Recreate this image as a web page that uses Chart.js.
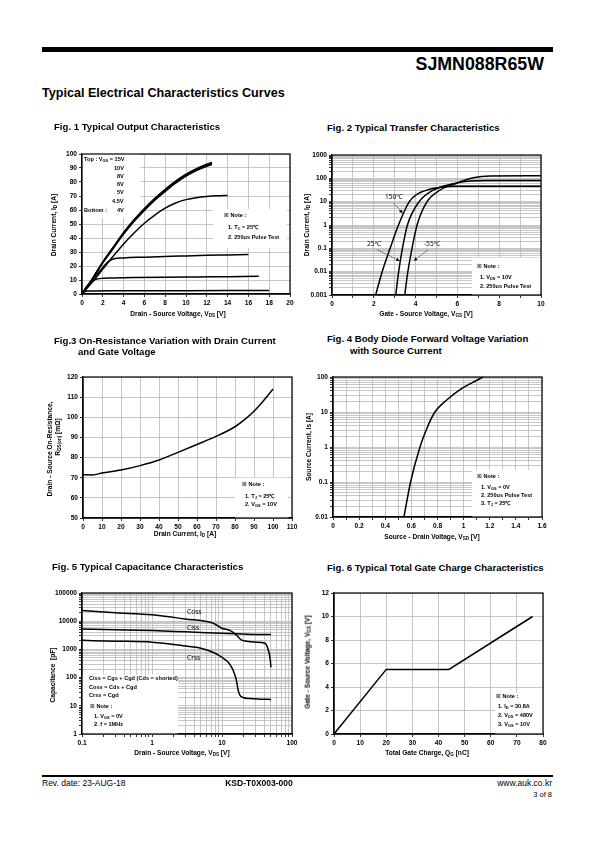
<!DOCTYPE html>
<html>
<head>
<meta charset="utf-8">
<script src="https://cdn.jsdelivr.net/npm/chart.js@4"></script>
<style>
body { margin: 0; background: #fff; }
#page { position: relative; width: 595px; height: 842px; overflow: hidden; font-family: "Liberation Sans", Arial, sans-serif; color: #000; }
.t { position: absolute; white-space: nowrap; line-height: 1; transform: translateY(-50%); }
.c { transform: translate(-50%, -50%); }
.v { transform: translate(-50%, -50%) rotate(-90deg); }
.fig { font-weight: bold; font-size: 9.6px; }
.ax { font-weight: bold; font-size: 6.6px; }
.note { font-weight: bold; font-size: 5.6px; }
.lbl { font-size: 6.6px; font-family: "Noto Sans", sans-serif; }
sub { font-size: 70%; vertical-align: -1px; line-height: 0; }
.bar { position: absolute; background: #000; }
</style>
</head>
<body>
<div id="page">
  <div class="bar" style="left:42px;top:47px;width:511px;height:5px"></div>
  <div class="t" style="right:51px;top:65px;font-weight:bold;font-size:17.8px">SJMN088R65W</div>
  <div class="t" style="left:42px;top:93px;font-weight:bold;font-size:12.6px">Typical Electrical Characteristics Curves</div>

  <div class="t fig" style="left:54px;top:127px">Fig. 1 Typical Output Characteristics</div>
  <div class="t fig" style="left:327px;top:128px">Fig. 2 Typical Transfer Characteristics</div>
  <div class="t fig" style="left:54px;top:341px">Fig.3 On-Resistance Variation with Drain Current</div>
  <div class="t fig" style="left:78px;top:352px">and Gate Voltage</div>
  <div class="t fig" style="left:327px;top:339px">Fig. 4 Body Diode Forward Voltage Variation</div>
  <div class="t fig" style="left:350px;top:351px">with Source Current</div>
  <div class="t fig" style="left:52px;top:567px">Fig. 5 Typical Capacitance Characteristics</div>
  <div class="t fig" style="left:327px;top:568px">Fig. 6 Typical Total Gate Charge Characteristics</div>

  <div class="bar" style="left:42px;top:775px;width:511px;height:2px"></div>
  <div class="t" style="left:42px;top:783px;font-size:8.5px">Rev. date: 23-AUG-18</div>
  <div class="t c" style="left:259px;top:783px;font-size:8.5px;font-weight:bold">KSD-T0X003-000</div>
  <div class="t" style="right:43px;top:783px;font-size:8.5px">www.auk.co.kr</div>
  <div class="t" style="right:43px;top:795px;font-size:7.5px">3 of 8</div>
</div>
<script>
// ---- Fig 1: output characteristics (VDS [V] -> ID [A])
const vdsBundle = [0, 1, 2, 3, 4, 5, 6, 7, 8, 9, 10, 11, 12, 12.5];
const id15V = [0, 11, 23, 33.5, 44, 53, 61, 68.3, 74.8, 80.6, 85.6, 89.6, 92.8, 94];
const id10V = [0, 10.8, 22.6, 33, 43.4, 52.4, 60.3, 67.6, 74, 79.8, 84.8, 88.8, 92, 93.2];
const id8V = [0, 10.6, 22.2, 32.5, 42.8, 51.8, 59.7, 67, 73.3, 79.2, 84.2, 88.2, 91.3, 92.5];
const vds6V = [0, 1, 2, 3, 4, 5, 6, 7, 8, 9, 10, 11, 12, 13, 14];
const id6V = [0, 8.5, 17.8, 27, 35.8, 43.6, 50.5, 56.4, 61.3, 65, 67.4, 68.8, 69.6, 70.1, 70.4];
const vds5V = [0, 0.5, 1, 1.5, 2, 2.5, 3, 4, 6, 8, 10, 12, 14, 16];
const id5V = [0, 5, 10, 14.5, 19, 23, 25, 25.8, 26.3, 26.8, 27.2, 27.6, 27.9, 28.2];
const vds45V = [0, 0.5, 1, 1.5, 2, 3, 5, 8, 11, 14, 17];
const id45V = [0, 6, 9.5, 10.8, 11.2, 11.4, 11.7, 12, 12.2, 12.4, 12.6];
const vds4V = [0, 0.2, 0.5, 1, 3, 6, 10, 14, 18];
const id4V = [0, 1.5, 2.1, 2.2, 2.3, 2.35, 2.4, 2.45, 2.5];
const fig1XTicks = [0, 2, 4, 6, 8, 10, 12, 14, 16, 18, 20];
const fig1YTicks = [0, 10, 20, 30, 40, 50, 60, 70, 80, 90, 100];

// ---- Fig 2: transfer characteristics (VGS [V] -> ID [A], log)
const vgs150 = [2.09, 2.4, 2.78, 3.18, 3.7, 4.04, 4.68, 5.2, 5.8, 6.5, 10];
const id150 = [0.001, 0.01, 0.1, 1, 10, 20, 34, 41, 45.5, 46, 46];
const vgs25 = [3.05, 3.19, 3.37, 3.61, 4.17, 4.84, 5.8, 6.6, 7.4, 10];
const id25 = [0.001, 0.01, 0.1, 1, 10, 31, 59, 76, 81, 81];
const vgsM55 = [3.48, 3.63, 3.83, 4.07, 4.55, 5.16, 5.96, 6.76, 7.56, 10];
const idM55 = [0.001, 0.01, 0.1, 1, 10, 31, 62, 106, 127, 128];
const fig2XTicks = [0, 1, 2, 3, 4, 5, 6, 7, 8, 9, 10];
const fig2Decades = [-3, 2]; // 0.001 .. 1000

// ---- Fig 3: on-resistance vs drain current
const idRds = [0, 5, 10, 20, 30, 40, 50, 60, 70, 80, 85, 90, 95, 100];
const rdsOn = [71.5, 71.4, 72.3, 73.8, 76, 78.8, 82.6, 86.5, 90.5, 95.3, 98.8, 103, 108.2, 114];
const fig3XTicks = [0, 10, 20, 30, 40, 50, 60, 70, 80, 90, 100, 110];
const fig3YTicks = [50, 60, 70, 80, 90, 100, 110, 120];

// ---- Fig 4: body diode forward voltage
const vsd = [0.543, 0.594, 0.666, 0.72, 0.78, 0.87, 0.97, 1.06, 1.15];
const isd = [0.01, 0.1, 1, 3.5, 10, 22, 43, 67, 100];
const fig4XTicks = [0, 0.1, 0.2, 0.3, 0.4, 0.5, 0.6, 0.7, 0.8, 0.9, 1, 1.1, 1.2, 1.3, 1.4, 1.5, 1.6];
const fig4Decades = [-2, 1]; // 0.01 .. 100

// ---- Fig 5: capacitance vs VDS
const vdsCoss = [0.1, 0.3, 1, 3, 7, 8, 10, 12.9, 16, 18.9, 22.3, 31, 41, 45, 49, 50];
const coss = [23900, 20000, 16800, 12000, 9000, 7800, 5600, 4700, 3270, 2170, 1940, 1800, 1650, 1100, 420, 230];
const vdsCiss = [0.1, 0.3, 1, 3, 10, 20, 30, 50];
const ciss = [5300, 5000, 4660, 4200, 3740, 3500, 3400, 3360];
const vdsCrss = [0.1, 0.3, 1, 3, 5, 8, 10, 12, 14, 15, 16, 17, 18, 20, 25, 35, 50];
const crss = [2090, 1960, 1800, 1320, 1100, 730, 520, 370, 214, 141, 83, 36, 24, 19.6, 18, 17.2, 16.8];
const fig5XDecades = [-1, 1]; // 0.1 .. 100
const fig5YDecades = [0, 4];  // 1 .. 100000

// ---- Fig 6: gate charge
const qg = [0, 20, 44, 76];
const vgsQ = [0, 5.5, 5.5, 10];
const fig6XTicks = [0, 10, 20, 30, 40, 50, 60, 70, 80];
const fig6YTicks = [0, 2, 4, 6, 8, 10, 12];

Chart.defaults.font.family = '"Liberation Sans", Arial, sans-serif';
Chart.defaults.font.size = 6.6;
Chart.defaults.font.weight = 'bold';
Chart.defaults.color = '#000';

const page = document.getElementById('page');
const GRID = '#b9b9b9';

function pts(xs, ys) {
  return xs.map((x, i) => ({ x: x, y: ys[i] }));
}

function logTicks(dec) {
  const out = [];
  for (let e = dec[0]; e <= dec[1]; e++) {
    for (let m = 1; m <= 9; m++) out.push(Number((m * Math.pow(10, e)).toPrecision(6)));
  }
  out.push(Number(Math.pow(10, dec[1] + 1).toPrecision(6)));
  return out;
}

function isDecade(v) {
  const l = Math.log10(v);
  return Math.abs(l - Math.round(l)) < 1e-9;
}

function line(data, width) {
  return {
    data: data,
    showLine: true,
    borderColor: '#000',
    borderWidth: width || 1.5,
    pointRadius: 0,
    cubicInterpolationMode: 'monotone',
    fill: false
  };
}

function axis(kind, tickVals, labelFn) {
  return {
    type: kind,
    min: tickVals[0],
    max: tickVals[tickVals.length - 1],
    afterBuildTicks: (a) => { a.ticks = tickVals.map(v => ({ value: v })); },
    grid: { color: GRID, lineWidth: 0.8, tickLength: 3, tickColor: '#000' },
    border: { color: '#000', width: 1.2 },
    ticks: { autoSkip: false, maxRotation: 0, padding: 2, callback: labelFn }
  };
}

// white note boxes under the curves, frame on top, optional arrows
function deco(boxes, arrows) {
  return {
    id: 'deco',
    beforeDatasetsDraw(chart) {
      const { ctx, scales } = chart;
      ctx.save();
      ctx.fillStyle = '#fff';
      boxes.forEach(b => {
        const x0 = scales.x.getPixelForValue(b[0]), x1 = scales.x.getPixelForValue(b[1]);
        const y0 = scales.y.getPixelForValue(b[2]), y1 = scales.y.getPixelForValue(b[3]);
        ctx.fillRect(Math.min(x0, x1), Math.min(y0, y1), Math.abs(x1 - x0), Math.abs(y1 - y0));
      });
      ctx.restore();
    },
    afterDatasetsDraw(chart) {
      const { ctx, chartArea: a, scales } = chart;
      ctx.save();
      ctx.strokeStyle = '#000';
      ctx.lineWidth = 1.2;
      ctx.strokeRect(a.left, a.top, a.right - a.left, a.bottom - a.top);
      (arrows || []).forEach(r => {
        const x0 = scales.x.getPixelForValue(r[0][0]), y0 = scales.y.getPixelForValue(r[0][1]);
        const x1 = scales.x.getPixelForValue(r[1][0]), y1 = scales.y.getPixelForValue(r[1][1]);
        const ang = Math.atan2(y1 - y0, x1 - x0);
        ctx.lineWidth = 0.7;
        ctx.setLineDash([1.5, 1]);
        ctx.beginPath(); ctx.moveTo(x0, y0); ctx.lineTo(x1 - 3 * Math.cos(ang), y1 - 3 * Math.sin(ang)); ctx.stroke();
        ctx.setLineDash([]);
        ctx.fillStyle = '#000';
        ctx.beginPath();
        ctx.moveTo(x1, y1);
        ctx.lineTo(x1 - 4 * Math.cos(ang - 0.45), y1 - 4 * Math.sin(ang - 0.45));
        ctx.lineTo(x1 - 4 * Math.cos(ang + 0.45), y1 - 4 * Math.sin(ang + 0.45));
        ctx.closePath(); ctx.fill();
      });
      ctx.restore();
    }
  };
}

// box = [left, top, right, bottom] of the plot area on the page
function makeChart(box, datasets, xAxis, yAxis, boxes, arrows) {
  const L = 34, T = 6, R = 12, B = 16;
  const wrap = document.createElement('div');
  const w = box[2] - box[0] + L + R, h = box[3] - box[1] + T + B;
  wrap.style.cssText = 'position:absolute;left:' + (box[0] - L) + 'px;top:' + (box[1] - T) + 'px;width:' + w + 'px;height:' + h + 'px';
  const cv = document.createElement('canvas');
  cv.width = w; cv.height = h;
  wrap.appendChild(cv);
  page.insertBefore(wrap, page.firstChild);
  xAxis.afterFit = (a) => { a.height = B; };
  yAxis.afterFit = (a) => { a.width = L; };
  new Chart(cv, {
    type: 'scatter',
    data: { datasets: datasets },
    options: {
      responsive: false,
      animation: false,
      layout: { padding: { left: 0, top: T, right: R, bottom: 0 } },
      plugins: { legend: { display: false }, tooltip: { enabled: false } },
      scales: { x: xAxis, y: yAxis }
    },
    plugins: [deco(boxes, arrows)]
  });
}

const plain = (v) => String(v);
const decadeLabel = (v) => isDecade(v) ? String(v) : '';

// Fig 1
makeChart([82, 154, 290, 294], [
  line(pts(vdsBundle, id15V)), line(pts(vdsBundle, id10V)), line(pts(vdsBundle, id8V)),
  line(pts(vds6V, id6V)), line(pts(vds5V, id5V)), line(pts(vds45V, id45V)), line(pts(vds4V, id4V))
], axis('linear', fig1XTicks, plain), axis('linear', fig1YTicks, plain),
  [[0, 5.6, 54.5, 100], [12.6, 19.7, 33, 60.7]]);

// Fig 2
makeChart([332, 155, 541, 295], [
  line(pts(vgs150, id150)), line(pts(vgs25, id25)), line(pts(vgsM55, idM55))
], axis('linear', fig2XTicks, (v) => v % 2 === 0 ? String(v) : ''),
  axis('logarithmic', logTicks(fig2Decades), decadeLabel),
  [[6.7, 10, 0.001, 0.04]],
  [[[2.95, 8.6], [3.38, 3.2]], [[2.19, 0.085], [3.24, 0.029]], [[4.58, 0.085], [3.91, 0.029]]]);

// Fig 3
makeChart([83, 377, 292, 518], [line(pts(idRds, rdsOn))],
  axis('linear', fig3XTicks, plain), axis('linear', fig3YTicks, plain),
  [[80, 108, 50, 70]]);

// Fig 4
makeChart([333, 377, 542, 517], [line(pts(vsd, isd))],
  axis('linear', fig4XTicks, (v) => Math.round(v * 10) % 2 === 0 ? String(Number(v.toFixed(1))) : ''),
  axis('logarithmic', logTicks(fig4Decades), decadeLabel),
  [[1.065, 1.6, 0.01, 0.22]]);

// Fig 5
makeChart([82, 593, 292, 734], [
  line(pts(vdsCoss, coss)), line(pts(vdsCiss, ciss)), line(pts(vdsCrss, crss))
], axis('logarithmic', logTicks(fig5XDecades), decadeLabel),
  axis('logarithmic', logTicks(fig5YDecades), decadeLabel),
  [[0.1, 2.35, 1, 126]]);

// Fig 6
makeChart([334, 593, 543, 734], [Object.assign(line(pts(qg, vgsQ)), { cubicInterpolationMode: 'default', tension: 0 })],
  axis('linear', fig6XTicks, plain), axis('linear', fig6YTicks, plain),
  [[61.7, 80, 0, 3.5]]);

// ---- text overlays (axis titles, notes, curve labels)
const texts = [
  // Fig 1
  ['t c ax', 178, 314, 'Drain - Source Voltage, V<sub>DS</sub> [V]'],
  ['t v ax', 54, 225, 'Drain Current, I<sub>D</sub> [A]'],
  ['t note', 84, 160, 'Top : V<sub>GS</sub> = 15V'],
  ['t note', 114, 168.5, '10V'],
  ['t note', 117, 177, '8V'],
  ['t note', 117, 185, '6V'],
  ['t note', 117, 193, '5V'],
  ['t note', 112, 201.5, '4.5V'],
  ['t note', 84, 210.5, 'Bottom :'],
  ['t note', 117, 210.5, '4V'],
  ['t note', 224, 216, '※ Note :'],
  ['t note', 228, 228, '1. T<sub>C</sub> = 25℃'],
  ['t note', 228, 238, '2. 250us Pulse Test'],
  // Fig 2
  ['t c ax', 426, 314, 'Gate - Source Voltage, V<sub>GS</sub> [V]'],
  ['t v ax', 307, 225, 'Drain Current, I<sub>D</sub> [A]'],
  ['t lbl', 385, 197, '150℃'],
  ['t lbl', 367, 244, '25℃'],
  ['t lbl', 424, 244, '-55℃'],
  ['t note', 477, 267, '※ Note :'],
  ['t note', 480, 278, '1. V<sub>DS</sub> = 10V'],
  ['t note', 480, 286.5, '2. 250us Pulse Test'],
  // Fig 3
  ['t c ax', 185, 534, 'Drain Current, I<sub>D</sub> [A]'],
  ['t v ax', 50, 449, 'Drain - Source On-Resistance,'],
  ['t v ax', 58, 437, 'R<sub>DS(on)</sub> [mΩ]'],
  ['t note', 242, 485, '※ Note :'],
  ['t note', 245, 497, '1. T<sub>J</sub> = 25℃'],
  ['t note', 245, 504.5, '2. V<sub>GS</sub> = 10V'],
  // Fig 4
  ['t c ax', 432, 537, 'Source - Drain Voltage, V<sub>SD</sub> [V]'],
  ['t v ax', 309, 447, 'Source Current, Is [A]'],
  ['t note', 477, 477, '※ Note :'],
  ['t note', 481, 488, '1. V<sub>GS</sub> = 0V'],
  ['t note', 481, 496, '2. 250us Pulse Test'],
  ['t note', 481, 504, '3. T<sub>J</sub> = 25℃'],
  // Fig 5
  ['t c ax', 182, 753, 'Drain - Source Voltage, V<sub>DS</sub> [V]'],
  ['t v ax', 53, 675, 'Capacitance&nbsp; [pF]'],
  ['t lbl', 187, 612, 'Coss'],
  ['t lbl', 187, 628, 'Ciss'],
  ['t lbl', 187, 657.5, 'Crss'],
  ['t note', 89, 679, 'Ciss = Cgs + Cgd (Cds = shorted)'],
  ['t note', 89, 688, 'Coss = Cds + Cgd'],
  ['t note', 89, 696, 'Crss = Cgd'],
  ['t note', 90, 707, '※ Note :'],
  ['t note', 94, 717, '1. V<sub>GS</sub> = 0V'],
  ['t note', 94, 724.5, '2. f = 1MHz'],
  // Fig 6
  ['t c ax', 427, 753, 'Total Gate Charge, Q<sub>G</sub> [nC]'],
  ['t v ax', 308, 662, 'Gate - Source Voltage, V<sub>GS</sub> [V]'],
  ['t note', 496, 697, '※ Note :'],
  ['t note', 498, 707, '1. I<sub>D</sub> = 30.8A'],
  ['t note', 498, 716, '2. V<sub>DS</sub> = 480V'],
  ['t note', 498, 724.5, '3. V<sub>GS</sub> = 10V']
];
texts.forEach(([cls, x, y, html]) => {
  const d = document.createElement('div');
  d.className = cls;
  d.style.left = x + 'px';
  d.style.top = y + 'px';
  d.innerHTML = html;
  page.appendChild(d);
});
</script>
</body>
</html>
